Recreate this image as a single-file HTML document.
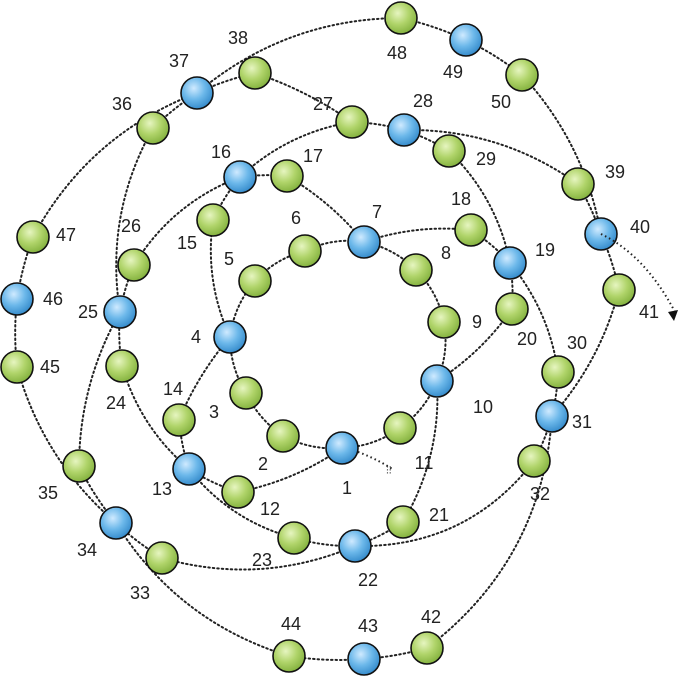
<!DOCTYPE html>
<html><head><meta charset="utf-8"><style>html,body{margin:0;padding:0;background:#fff}svg{display:block}</style></head><body>
<svg width="678" height="679" viewBox="0 0 678 679" xmlns="http://www.w3.org/2000/svg" font-family="Liberation Sans, sans-serif" font-size="18" fill="#222">
<defs>
<radialGradient id="b" cx="0.4" cy="0.35" r="0.7"><stop offset="0" stop-color="#cfeaff"/><stop offset="0.5" stop-color="#6cb8ea"/><stop offset="1" stop-color="#2f86c8"/></radialGradient>
<radialGradient id="g" cx="0.4" cy="0.35" r="0.7"><stop offset="0" stop-color="#e6f5c0"/><stop offset="0.5" stop-color="#b0d46a"/><stop offset="1" stop-color="#7fae3a"/></radialGradient>
</defs>
<g id="edges" stroke="#222" stroke-width="2" stroke-dasharray="1.5,3" fill="none" stroke-linecap="round"></g>
<g id="nodes" stroke="#111" stroke-width="1.6"></g>
<g id="labels"></g>
<path d="M601,234 Q645,255 675,312" stroke="#222" stroke-width="2" stroke-dasharray="1.5,3" fill="none"/>
<polygon points="668,312 678,310 674,321" fill="#111"/>
<path d="M358,452 Q375,458 394,470" stroke="#222" stroke-width="2" stroke-dasharray="1.5,3" fill="none"/>
<text x="386" y="474" font-size="11">⫶⫶</text>
<script>
var N={1:[342,448,1],2:[283,436],3:[246,393],4:[230,337,1],5:[255,281],6:[305,251],7:[364,242,1],8:[416,270],9:[444,322],10:[437,381,1],11:[400,428],12:[238,492],13:[189,469,1],14:[179,420],15:[213,220],16:[240,177,1],17:[287,176],18:[471,230],19:[510,263,1],20:[512,309],21:[403,522],22:[355,546,1],23:[294,538],24:[122,366],25:[120,312,1],26:[134,265],27:[352,122],28:[404,130,1],29:[449,151],30:[558,372],31:[552,416,1],32:[534,461],33:[162,558],34:[116,523,1],35:[79,466],36:[153,128],37:[197,93,1],38:[255,73],39:[578,184],40:[601,234,1],41:[619,290],42:[427,648],43:[364,659,1],44:[289,656],45:[17,367],46:[17,299,1],47:[33,237],48:[401,18],49:[466,40,1],50:[522,75]};
var L={1:[347,494],2:[263,470],3:[214,418],4:[196,343],5:[229,265],6:[296,224],7:[377,218],8:[446,259],9:[477,328],10:[483,413],11:[424,469],12:[270,515],13:[162,495],14:[173,395],15:[187,249],16:[221,158],17:[313,162],18:[461,205],19:[545,256],20:[527,345],21:[439,521],22:[368,586],23:[262,566],24:[116,409],25:[88,318],26:[131,232],27:[323,110],28:[423,107],29:[486,165],30:[577,349],31:[582,428],32:[540,500],33:[140,599],34:[87,556],35:[48,499],36:[122,110],37:[179,67],38:[238,44],39:[615,178],40:[640,233],41:[649,318],42:[431,623],43:[368,632],44:[291,630],45:[50,373],46:[53,305],47:[66,241],48:[397,59],49:[453,78],50:[501,108]};
var E="1-2 2-3 3-4 4-5 5-6 6-7 7-8 8-9 9-10 10-11 11-1 1-12 12-13 13-14 14-4 4-15 15-16 16-17 17-7 7-18 18-19 19-20 20-10 10-21 21-22 22-23 23-13 13-24 24-25 25-26 26-16 16-27 27-28 28-29 29-19 19-30 30-31 31-32 32-22 22-33 33-34 34-35 35-25 25-36 36-37 37-38 38-27 28-39 39-40 40-41 41-31 31-42 42-43 43-44 44-34 34-45 45-46 46-47 47-37 37-48 48-49 49-50 50-40".split(" ");
var C=[340,340];
var ns="http://www.w3.org/2000/svg",ge=document.getElementById("edges"),gn=document.getElementById("nodes"),gl=document.getElementById("labels");
E.forEach(function(e){var p=e.split("-"),a=N[p[0]],b=N[p[1]];
var mx=(a[0]+b[0])/2,my=(a[1]+b[1])/2,dx=b[0]-a[0],dy=b[1]-a[1],Ln=Math.hypot(dx,dy);
var nx=-dy/Ln,ny=dx/Ln,rx=mx-C[0],ry=my-C[1],R=Math.hypot(rx,ry)||1;
var d=(nx*rx+ny*ry)/R; if(d<0){nx=-nx;ny=-ny;d=-d;}
var s=Ln*Ln/(8*R)*d*d*2; if(s>60)s=60;
var pth=document.createElementNS(ns,"path");
pth.setAttribute("d","M"+a[0]+","+a[1]+" Q"+(mx+nx*s).toFixed(1)+","+(my+ny*s).toFixed(1)+" "+b[0]+","+b[1]);ge.appendChild(pth);});
for(var k in N){var n=N[k];var c=document.createElementNS(ns,"circle");c.setAttribute("cx",n[0]);c.setAttribute("cy",n[1]);c.setAttribute("r",16);c.setAttribute("fill",n[2]?"url(#b)":"url(#g)");gn.appendChild(c);
var t=document.createElementNS(ns,"text");t.setAttribute("x",L[k][0]);t.setAttribute("y",L[k][1]);t.setAttribute("text-anchor","middle");t.textContent=k;gl.appendChild(t);}
</script>
</svg>
</body></html>
